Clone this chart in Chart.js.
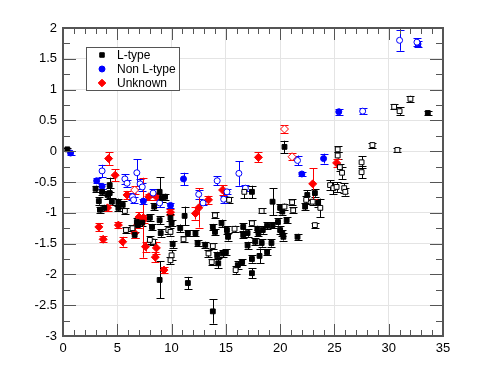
<!DOCTYPE html>
<html>
<head>
<meta charset="utf-8">
<script src="https://cdn.jsdelivr.net/npm/chart.js@4.4.1/dist/chart.umd.min.js"></script>
<style>
  html, body { margin: 0; padding: 0; background: #fff; }
  #wrap { width: 491px; height: 378px; }
</style>
</head>
<body>
<div id="wrap"><canvas id="chart" width="491" height="378"></canvas></div>
<script>
// [x, y, error]
const lTypeFilled = [
    [0.4, 0.03, 0.03], [3.0, -0.61, 0.05], [3.6, -0.66, 0.05], [3.3, -0.81, 0.06], [3.4, -0.95, 0.05],
    [3.8, -0.92, 0.05], [4.1, -0.71, 0.06], [4.3, -0.68, 0.08], [4.5, -0.82, 0.06], [4.3, -0.55, 0.12],
    [5.1, -0.83, 0.06], [5.1, -0.92, 0.05], [5.5, -0.87, 0.06], [6.8, -1.15, 0.06], [6.9, -1.2, 0.05],
    [7.3, -1.16, 0.06], [6.6, -1.36, 0.05], [8.0, -1.08, 0.06], [8.2, -1.23, 0.05], [8.9, -1.12, 0.06],
    [8.9, -0.66, 0.24], [9.1, -0.76, 0.06], [9.4, -0.74, 0.05], [8.4, -0.9, 0.06], [9.0, -1.33, 0.06],
    [8.9, -2.09, 0.3], [10.1, -1.51, 0.06], [11.5, -2.14, 0.1], [13.8, -2.6, 0.2], [12.4, -1.49, 0.05],
    [13.1, -1.52, 0.05], [14.2, -1.69, 0.06], [14.3, -1.82, 0.08], [14.7, -1.66, 0.06], [15.0, -1.64, 0.05],
    [16.1, -1.85, 0.06], [16.5, -1.8, 0.05], [17.4, -1.98, 0.08], [17.4, -1.75, 0.06], [18.1, -1.7, 0.12],
    [18.8, -1.64, 0.05], [17.0, -1.53, 0.06], [17.7, -1.47, 0.06], [18.3, -1.49, 0.06], [11.5, -1.33, 0.05],
    [12.2, -1.33, 0.05], [14.0, -1.31, 0.05], [15.2, -1.39, 0.06], [16.6, -1.36, 0.05], [17.0, -1.33, 0.06],
    [18.0, -1.33, 0.05], [19.2, -1.49, 0.06], [9.9, -1.08, 0.06], [10.0, -1.17, 0.05], [10.8, -1.25, 0.06],
    [11.2, -1.05, 0.15], [14.6, -1.17, 0.06], [13.8, -1.23, 0.05], [15.1, -1.28, 0.06], [16.6, -1.23, 0.06],
    [17.9, -1.26, 0.05], [18.4, -1.28, 0.06], [18.8, -1.21, 0.06], [19.3, -1.2, 0.05], [17.4, -0.66, 0.1],
    [19.3, -0.82, 0.22], [20.4, 0.07, 0.1], [20.0, -0.92, 0.06], [20.2, -0.98, 0.05], [19.8, -1.15, 0.06],
    [20.0, -1.28, 0.06], [20.6, -1.12, 0.05], [20.2, -1.33, 0.05], [20.3, -1.39, 0.06], [21.6, -1.39, 0.05],
    [22.5, -0.71, 0.08], [22.3, -0.9, 0.06], [23.2, -0.68, 0.06], [23.5, -0.84, 0.06], [33.6, 0.62, 0.04]
];
const lTypeOpen = [
    [5.7, -0.97, 0.05], [6.4, -1.25, 0.05], [5.8, -1.28, 0.05], [9.7, -1.28, 0.06], [8.3, -1.47, 0.05],
    [8.0, -1.44, 0.06], [11.1, -1.43, 0.05], [10.0, -1.69, 0.08], [9.9, -1.77, 0.06], [13.8, -1.54, 0.05],
    [13.4, -1.66, 0.06], [13.7, -1.8, 0.05], [15.9, -1.93, 0.06], [9.9, -1.31, 0.06], [14.0, -1.04, 0.05],
    [15.8, -1.26, 0.05], [17.4, -1.17, 0.05], [18.3, -0.97, 0.04], [15.3, -0.79, 0.05], [16.7, -0.66, 0.1],
    [20.4, -0.9, 0.05], [21.1, -0.83, 0.05], [21.2, -0.96, 0.05], [23.2, -1.2, 0.04], [22.4, -0.79, 0.06],
    [23.0, -0.82, 0.05], [23.7, -0.92, 0.15], [24.6, -0.55, 0.08], [24.9, -0.6, 0.1], [25.2, -0.58, 0.08],
    [25.7, -0.35, 0.1], [25.9, -0.6, 0.08], [26.0, -0.66, 0.06], [25.3, 0.03, 0.05], [25.3, -0.07, 0.05],
    [25.5, -0.26, 0.06], [27.5, -0.18, 0.1], [27.5, -0.34, 0.1], [28.5, 0.1, 0.04], [30.8, 0.02, 0.03],
    [30.5, 0.72, 0.04], [31.0, 0.65, 0.06], [32.0, 0.85, 0.05]
];
const nonLFilled = [
    [0.7, -0.03, 0.03], [3.1, -0.48, 0.04], [3.6, -0.57, 0.04], [7.4, -0.81, 0.04], [9.9, -0.88, 0.04],
    [11.1, -0.45, 0.1], [22.0, -0.37, 0.03], [24.0, -0.12, 0.08], [25.4, 0.64, 0.05], [32.7, 1.74, 0.05]
];
const nonLOpen = [
    [3.6, -0.32, 0.1], [5.7, -0.45, 0.08], [5.9, -0.52, 0.06], [6.8, -0.35, 0.22], [7.1, -0.53, 0.08],
    [7.3, -0.58, 0.06], [6.4, -0.74, 0.06], [6.5, -0.79, 0.05], [8.3, -0.68, 0.06], [8.9, -0.84, 0.06],
    [12.5, -0.7, 0.07], [12.9, -0.84, 0.03], [14.2, -0.48, 0.07], [14.8, -0.78, 0.06], [15.1, -0.66, 0.04],
    [16.2, -0.36, 0.2], [16.8, -0.6, 0.05], [21.6, -0.15, 0.08], [27.6, 0.65, 0.05], [31.0, 1.8, 0.17],
    [32.6, 1.77, 0.06]
];
const unknownFilled = [
    [4.2, -0.12, 0.1], [4.8, -0.39, 0.1], [4.1, -0.92, 0.05], [3.3, -1.23, 0.06], [3.7, -1.43, 0.05],
    [5.1, -1.2, 0.05], [5.5, -1.47, 0.08], [6.6, -1.33, 0.08], [7.4, -1.08, 0.65], [7.6, -1.55, 0.08],
    [8.6, -1.57, 0.1], [8.5, -1.72, 0.08], [9.3, -1.93, 0.05], [5.9, -0.71, 0.06], [7.0, -1.07, 0.08],
    [7.9, -0.74, 0.05], [8.6, -0.74, 0.06], [6.9, -1.19, 0.06], [7.5, -1.1, 0.06], [9.9, -0.99, 0.05],
    [12.2, -1.01, 0.1], [12.5, -0.92, 0.32], [13.4, -0.79, 0.06], [14.7, -0.63, 0.08], [18.0, -0.1, 0.08],
    [23.0, -0.53, 0.25], [25.2, -0.19, 0.07]
];
const unknownOpen = [
    [6.6, -0.63, 0.06], [20.4, 0.36, 0.06], [21.1, -0.09, 0.06]
];

const legendNames = ['L-type', 'Non L-type', 'Unknown'];
const xTicks = [0, 5, 10, 15, 20, 25, 30, 35];
const yTicks = [-3, -2.5, -2, -1.5, -1, -0.5, 0, 0.5, 1, 1.5, 2];

const BLACK = '#000000';
const BLUE = '#0000ff';
const RED = '#ff0000';
const FONT = "'Liberation Sans', Arial, sans-serif";

function makeSet(rows, color, style, radius, filled) {
    return {
        data: rows.map(r => ({ x: r[0], y: r[1] })),
        errs: rows.map(r => r[2]),
        errColor: color,
        pointStyle: style,
        pointRadius: radius,
        borderColor: color,
        backgroundColor: filled ? color : '#ffffff',
        borderWidth: 1,
        showLine: false
    };
}

// vertical error bars drawn from the scales
const errorBars = {
    id: 'errorBars',
    beforeDatasetsDraw(chart) {
        const ctx = chart.ctx;
        const ys = chart.scales.y;
        ctx.save();
        ctx.lineWidth = 1;
        chart.data.datasets.forEach((ds, i) => {
            const meta = chart.getDatasetMeta(i);
            ctx.strokeStyle = ds.errColor;
            meta.data.forEach((pt, j) => {
                const v = ds.data[j].y;
                const e = ds.errs[j];
                const x = Math.round(pt.x) + 0.5;
                const top = ys.getPixelForValue(v + e);
                const bot = ys.getPixelForValue(v - e);
                ctx.beginPath();
                ctx.moveTo(x, top); ctx.lineTo(x, bot);
                ctx.moveTo(x - 4, Math.round(top) + 0.5); ctx.lineTo(x + 4, Math.round(top) + 0.5);
                ctx.moveTo(x - 4, Math.round(bot) + 0.5); ctx.lineTo(x + 4, Math.round(bot) + 0.5);
                ctx.stroke();
            });
        });
        ctx.restore();
    }
};

// frame, inward major/minor ticks on all four sides, legend box
const frameAndLegend = {
    id: 'frameAndLegend',
    afterDraw(chart) {
        const ctx = chart.ctx;
        const a = chart.chartArea;
        const xs = chart.scales.x;
        const ys = chart.scales.y;
        ctx.save();
        ctx.strokeStyle = '#555555';
        ctx.lineWidth = 1;
        for (let v = 0; v <= 35; v += 1) {
            const px = Math.round(xs.getPixelForValue(v)) + 0.5;
            const len = v % 5 === 0 ? 12 : 6;
            ctx.beginPath();
            ctx.moveTo(px, a.bottom); ctx.lineTo(px, a.bottom - len);
            ctx.moveTo(px, a.top); ctx.lineTo(px, a.top + len);
            ctx.stroke();
        }
        for (let k = 0; k <= 20; k++) {
            const v = -3 + k * 0.25;
            const py = Math.round(ys.getPixelForValue(v)) + 0.5;
            const len = k % 2 === 0 ? 13 : 7;
            ctx.beginPath();
            ctx.moveTo(a.left, py); ctx.lineTo(a.left + len, py);
            ctx.moveTo(a.right, py); ctx.lineTo(a.right - len, py);
            ctx.stroke();
        }
        ctx.lineWidth = 2;
        ctx.strokeStyle = '#555555';
        ctx.strokeRect(a.left, a.top, a.right - a.left, a.bottom - a.top);

        // legend
        const lx = a.left + 23, ly = a.top + 19;
        ctx.fillStyle = '#ffffff';
        ctx.fillRect(lx, ly, 93, 43);
        ctx.lineWidth = 1;
        ctx.strokeStyle = '#555555';
        ctx.strokeRect(lx + 0.5, ly + 0.5, 93, 43);
        const colors = [BLACK, BLUE, RED];
        const styles = ['rect', 'circle', 'rectRot'];
        const radii = [3.2, 3, 3.8];
        ctx.font = '12px ' + FONT;
        ctx.textBaseline = 'middle';
        legendNames.forEach((name, i) => {
            const cy = ly + 8 + i * 14;
            ctx.fillStyle = colors[i];
            ctx.strokeStyle = colors[i];
            Chart.helpers.drawPoint(ctx, { pointStyle: styles[i], radius: radii[i], borderWidth: 1 }, lx + 16, cy);
            ctx.fillStyle = '#000000';
            ctx.fillText(name, lx + 31, cy + 1);
        });
        ctx.restore();
    }
};

new Chart(document.getElementById('chart'), {
    type: 'scatter',
    data: {
        datasets: [
            makeSet(lTypeOpen, BLACK, 'rect', 3.4, false),
            makeSet(lTypeFilled, BLACK, 'rect', 3.4, true),
            makeSet(nonLOpen, BLUE, 'circle', 3, false),
            makeSet(nonLFilled, BLUE, 'circle', 3, true),
            makeSet(unknownOpen, RED, 'rectRot', 4, false),
            makeSet(unknownFilled, RED, 'rectRot', 4, true)
        ]
    },
    options: {
        responsive: false,
        animation: false,
        layout: { padding: { top: 28, right: 48, left: 0, bottom: 0 } },
        plugins: {
            legend: { display: false },
            tooltip: { enabled: false }
        },
        scales: {
            x: {
                type: 'linear',
                min: 0, max: 35,
                afterBuildTicks: s => { s.ticks = xTicks.map(v => ({ value: v })); },
                afterFit: s => { s.height = 42; },
                grid: { color: '#e4e4e4', drawTicks: false },
                border: { display: false },
                ticks: { padding: 5, color: '#000', font: { size: 13, family: FONT }, callback: v => String(v) }
            },
            y: {
                type: 'linear',
                min: -3, max: 2,
                afterBuildTicks: s => { s.ticks = yTicks.map(v => ({ value: v })); },
                afterFit: s => { s.width = 63; },
                grid: { color: '#e4e4e4', drawTicks: false },
                border: { display: false },
                ticks: { padding: 6, color: '#000', font: { size: 13, family: FONT }, callback: v => String(v) }
            }
        }
    },
    plugins: [errorBars, frameAndLegend]
});
</script>
</body>
</html>
